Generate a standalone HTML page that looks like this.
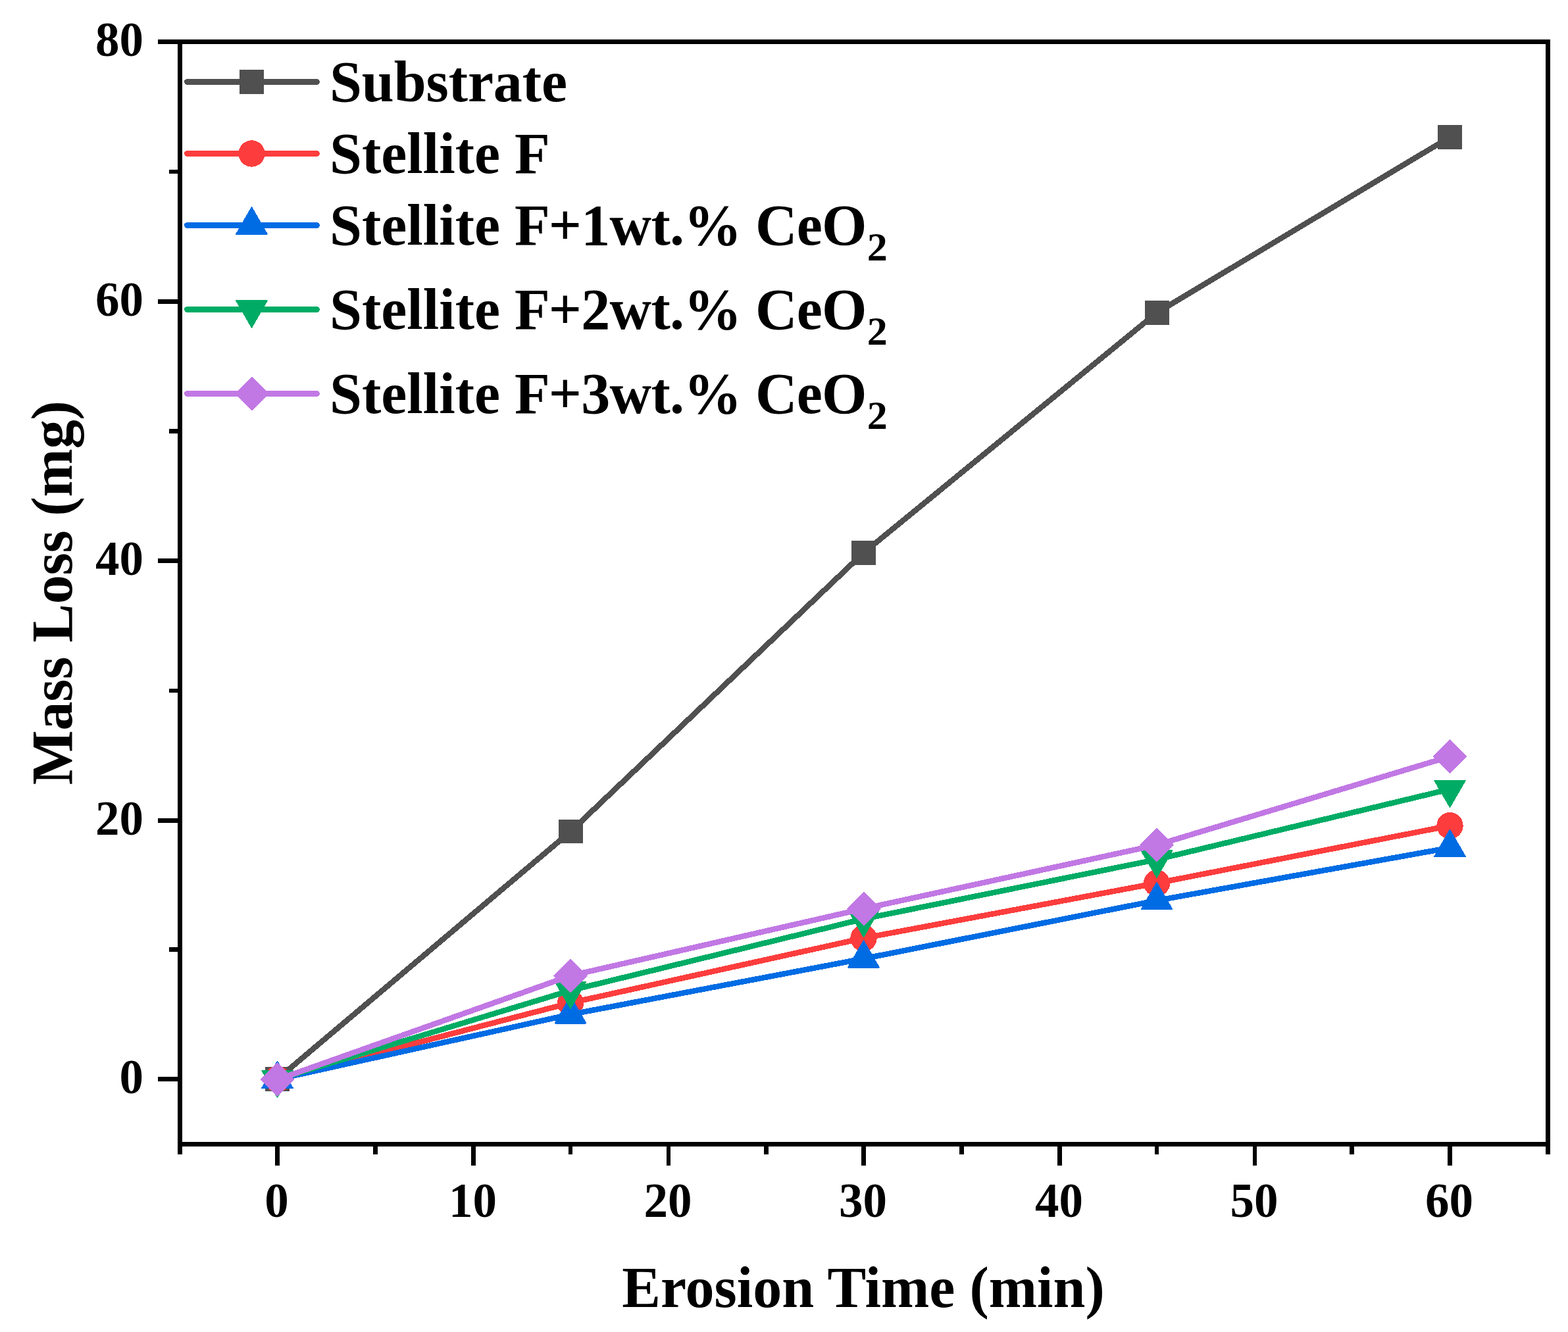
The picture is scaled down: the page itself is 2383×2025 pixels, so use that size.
<!DOCTYPE html>
<html lang="en">
<head>
<meta charset="utf-8">
<title>Mass Loss vs Erosion Time</title>
<style>
html,body{margin:0;padding:0;background:#fff;}
body{width:2383px;height:2025px;}
svg{display:block;}
text{font-family:"Liberation Serif","Times New Roman",Times,serif;font-weight:bold;fill:#000;}
.tk{font-size:73px;}
.tt{font-size:88px;}
.lg{font-size:88px;}
.sub{font-size:62px;}
</style>
</head>
<body>
<svg width="2383" height="2025" viewBox="0 0 2383 2025">
<rect x="0" y="0" width="2383" height="2025" fill="#fff"/>
<g id="series" shape-rendering="crispEdges">
<g>
<polyline points="421.5,1640.5 867.0,1264.3 1312.5,840.4 1758.0,475.5 2203.5,208.5" fill="none" stroke="#505050" stroke-width="8.5" stroke-linejoin="round" stroke-linecap="round"/>
<rect x="403" y="1622" width="37" height="37" fill="#505050" shape-rendering="crispEdges"/>
<rect x="849" y="1246" width="37" height="36" fill="#505050" shape-rendering="crispEdges"/>
<rect x="1294" y="822" width="37" height="37" fill="#505050" shape-rendering="crispEdges"/>
<rect x="1740" y="457" width="37" height="37" fill="#505050" shape-rendering="crispEdges"/>
<rect x="2185" y="190" width="37" height="37" fill="#505050" shape-rendering="crispEdges"/>
</g>
<g>
<polyline points="421.5,1640.5 867.0,1524.6 1312.5,1426.2 1758.0,1342.6 2203.5,1255.3" fill="none" stroke="#fd3d3d" stroke-width="8.5" stroke-linejoin="round" stroke-linecap="round"/>
<circle cx="421.5" cy="1640.5" r="20.2" fill="#fd3d3d"/>
<circle cx="867.0" cy="1524.6" r="20.2" fill="#fd3d3d"/>
<circle cx="1312.5" cy="1426.2" r="20.2" fill="#fd3d3d"/>
<circle cx="1758.0" cy="1342.6" r="20.2" fill="#fd3d3d"/>
<circle cx="2203.5" cy="1255.3" r="20.2" fill="#fd3d3d"/>
</g>
<g>
<polyline points="421.5,1640.8 867.0,1542.2 1312.5,1457.4 1758.0,1369.0 2203.5,1288.8" fill="none" stroke="#006ce4" stroke-width="8.5" stroke-linejoin="round" stroke-linecap="round"/>
<path d="M421.5 1613.8 L444.8 1654.1 L398.2 1654.1 Z" fill="#006ce4" stroke="#006ce4" stroke-width="2" stroke-linejoin="round"/>
<path d="M867.0 1515.2 L890.3 1555.5 L843.7 1555.5 Z" fill="#006ce4" stroke="#006ce4" stroke-width="2" stroke-linejoin="round"/>
<path d="M1312.5 1430.4 L1335.8 1470.7 L1289.2 1470.7 Z" fill="#006ce4" stroke="#006ce4" stroke-width="2" stroke-linejoin="round"/>
<path d="M1758.0 1342.0 L1781.3 1382.3 L1734.7 1382.3 Z" fill="#006ce4" stroke="#006ce4" stroke-width="2" stroke-linejoin="round"/>
<path d="M2203.5 1261.8 L2226.8 1302.1 L2180.2 1302.1 Z" fill="#006ce4" stroke="#006ce4" stroke-width="2" stroke-linejoin="round"/>
</g>
<g>
<polyline points="421.5,1640.8 867.0,1505.8 1312.5,1397.0 1758.0,1306.7 2203.5,1199.8" fill="none" stroke="#00ac65" stroke-width="8.5" stroke-linejoin="round" stroke-linecap="round"/>
<path d="M421.5 1667.8 L444.8 1627.5 L398.2 1627.5 Z" fill="#00ac65" stroke="#00ac65" stroke-width="2" stroke-linejoin="round"/>
<path d="M867.0 1532.8 L890.3 1492.5 L843.7 1492.5 Z" fill="#00ac65" stroke="#00ac65" stroke-width="2" stroke-linejoin="round"/>
<path d="M1312.5 1424.0 L1335.8 1383.7 L1289.2 1383.7 Z" fill="#00ac65" stroke="#00ac65" stroke-width="2" stroke-linejoin="round"/>
<path d="M1758.0 1333.7 L1781.3 1293.4 L1734.7 1293.4 Z" fill="#00ac65" stroke="#00ac65" stroke-width="2" stroke-linejoin="round"/>
<path d="M2203.5 1226.8 L2226.8 1186.5 L2180.2 1186.5 Z" fill="#00ac65" stroke="#00ac65" stroke-width="2" stroke-linejoin="round"/>
</g>
<g>
<polyline points="421.5,1641.4 867.0,1483.3 1312.5,1381.5 1758.0,1284.6 2203.5,1150.1" fill="none" stroke="#c178e4" stroke-width="8.5" stroke-linejoin="round" stroke-linecap="round"/>
<path d="M421.5 1615.4 L447.5 1641.4 L421.5 1667.4 L395.5 1641.4 Z" fill="#c178e4"/>
<path d="M867.0 1457.3 L893.0 1483.3 L867.0 1509.3 L841.0 1483.3 Z" fill="#c178e4"/>
<path d="M1312.5 1355.5 L1338.5 1381.5 L1312.5 1407.5 L1286.5 1381.5 Z" fill="#c178e4"/>
<path d="M1758.0 1258.6 L1784.0 1284.6 L1758.0 1310.6 L1732.0 1284.6 Z" fill="#c178e4"/>
<path d="M2203.5 1124.1 L2229.5 1150.1 L2203.5 1176.1 L2177.5 1150.1 Z" fill="#c178e4"/>
</g>
</g>
<g id="axes" fill="#000" shape-rendering="crispEdges">
<rect x="270" y="60" width="2086" height="7"/>
<rect x="270" y="1736" width="2086" height="7"/>
<rect x="270" y="60" width="7" height="1683"/>
<rect x="2349" y="60" width="7" height="1683"/>
<rect x="270" y="1743" width="7" height="12"/>
<rect x="418" y="1743" width="7" height="29"/>
<rect x="567" y="1743" width="7" height="12"/>
<rect x="716" y="1743" width="7" height="29"/>
<rect x="864" y="1743" width="6" height="12"/>
<rect x="1013" y="1743" width="6" height="29"/>
<rect x="1161" y="1743" width="7" height="12"/>
<rect x="1309" y="1743" width="7" height="29"/>
<rect x="1458" y="1743" width="7" height="12"/>
<rect x="1607" y="1743" width="7" height="29"/>
<rect x="1755" y="1743" width="6" height="12"/>
<rect x="1904" y="1743" width="6" height="29"/>
<rect x="2051" y="1743" width="7" height="12"/>
<rect x="2200" y="1743" width="7" height="29"/>
<rect x="2349" y="1743" width="7" height="12"/>
<rect x="240" y="60" width="30" height="7"/>
<rect x="257" y="258" width="13" height="6"/>
<rect x="240" y="455" width="30" height="7"/>
<rect x="257" y="652" width="13" height="7"/>
<rect x="240" y="849" width="30" height="7"/>
<rect x="257" y="1047" width="13" height="6"/>
<rect x="240" y="1244" width="30" height="7"/>
<rect x="257" y="1440" width="13" height="7"/>
<rect x="240" y="1637" width="30" height="7"/>
</g>
<g id="xticklabels" class="tk" text-anchor="middle">
<text x="420.5" y="1849.5">0</text>
<text x="718.5" y="1849.5">10</text>
<text x="1015.0" y="1849.5">20</text>
<text x="1311.5" y="1849.5">30</text>
<text x="1609.5" y="1849.5">40</text>
<text x="1906.0" y="1849.5">50</text>
<text x="2202.5" y="1849.5">60</text>
</g>
<g id="yticklabels" class="tk" text-anchor="end">
<text x="218" y="1661.5">0</text>
<text x="218" y="1268.5">20</text>
<text x="218" y="873.5">40</text>
<text x="218" y="479.5">60</text>
<text x="218" y="84.5">80</text>
</g>
<text class="tt" x="1312" y="1987" text-anchor="middle" letter-spacing="0">Erosion Time (min)</text>
<text class="tt" transform="translate(109 901.4) rotate(-90)" text-anchor="middle" letter-spacing="-0.2">Mass Loss (mg)</text>
<g id="legend" shape-rendering="crispEdges">
<line x1="284.5" y1="124.5" x2="481.5" y2="124.5" stroke="#505050" stroke-width="9" stroke-linecap="round"/>
<rect x="364" y="106" width="37" height="37" fill="#505050" shape-rendering="crispEdges"/>
<text class="lg" x="501" y="153.9" letter-spacing="-0.1">Substrate</text>
<line x1="284.5" y1="233.5" x2="481.5" y2="233.5" stroke="#fd3d3d" stroke-width="9" stroke-linecap="round"/>
<circle cx="382.5" cy="233.5" r="20.2" fill="#fd3d3d"/>
<text class="lg" x="501" y="262.9" letter-spacing="0">Stellite F</text>
<line x1="284.5" y1="342.5" x2="481.5" y2="342.5" stroke="#006ce4" stroke-width="9" stroke-linecap="round"/>
<path d="M382.5 315.5 L405.8 355.8 L359.2 355.8 Z" fill="#006ce4" stroke="#006ce4" stroke-width="2" stroke-linejoin="round"/>
<text class="lg" x="501" y="371.9" letter-spacing="0">Stellite F<tspan dx="-2" letter-spacing="-0.7">+1wt.% CeO</tspan><tspan class="sub" dy="24" dx="1">2</tspan></text>
<line x1="284.5" y1="470.5" x2="481.5" y2="470.5" stroke="#00ac65" stroke-width="9" stroke-linecap="round"/>
<path d="M382.5 497.5 L405.8 457.2 L359.2 457.2 Z" fill="#00ac65" stroke="#00ac65" stroke-width="2" stroke-linejoin="round"/>
<text class="lg" x="501" y="499.9" letter-spacing="0">Stellite F<tspan dx="-2" letter-spacing="-0.7">+2wt.% CeO</tspan><tspan class="sub" dy="24" dx="1">2</tspan></text>
<line x1="284.5" y1="598.5" x2="481.5" y2="598.5" stroke="#c178e4" stroke-width="9" stroke-linecap="round"/>
<path d="M382.5 572.5 L408.5 598.5 L382.5 624.5 L356.5 598.5 Z" fill="#c178e4"/>
<text class="lg" x="501" y="627.9" letter-spacing="0">Stellite F<tspan dx="-2" letter-spacing="-0.7">+3wt.% CeO</tspan><tspan class="sub" dy="24" dx="1">2</tspan></text>
</g>
</svg>
</body>
</html>
